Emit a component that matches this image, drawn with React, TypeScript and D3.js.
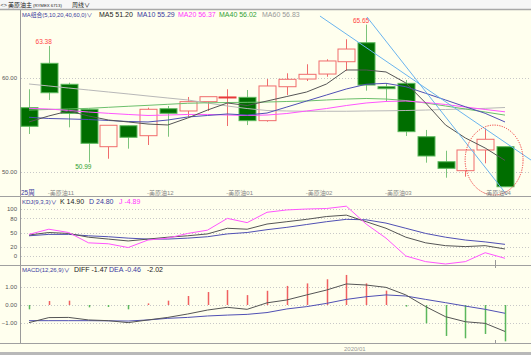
import React from 'react';
import * as d3 from 'd3';

// weekly candles (25 weeks)
const opens = [56.81, 61.53, 59.30, 56.64, 52.66, 54.89, 53.83, 56.70, 56.46, 57.45, 57.90, 57.91, 55.43, 59.04, 59.86, 60.39, 61.70, 63.72, 59.04, 59.40, 53.72, 51.06, 50.11, 52.31, 52.66];
const highs = [58.77, 63.38, 59.47, 56.70, 54.94, 54.90, 56.81, 56.99, 57.95, 58.00, 58.77, 58.69, 59.86, 60.47, 61.43, 61.96, 64.09, 65.65, 59.40, 59.76, 54.44, 52.23, 52.31, 54.62, 52.66];
const lows = [54.01, 57.63, 54.72, 50.99, 51.38, 52.45, 52.84, 53.72, 55.85, 56.46, 54.86, 54.96, 55.32, 58.16, 59.65, 60.10, 60.74, 58.62, 57.45, 53.80, 50.96, 49.36, 49.47, 50.89, 48.40];
const closes = [54.83, 58.40, 56.21, 53.02, 54.94, 53.66, 56.64, 56.21, 57.45, 57.98, 57.95, 55.43, 59.12, 59.83, 60.36, 61.78, 63.05, 59.22, 58.83, 54.26, 51.67, 50.36, 52.31, 53.45, 48.40];

const ma5 = [55.29, 55.93, 56.46, 55.93, 55.50, 55.29, 55.07, 54.97, 55.71, 56.56, 57.31, 57.04, 57.52, 58.00, 58.48, 59.33, 60.82, 60.82, 60.61, 59.44, 57.31, 54.97, 53.59, 52.52, 51.20];
const ma10 = [55.79, 55.66, 55.61, 55.55, 55.45, 55.34, 55.29, 55.50, 55.82, 55.98, 56.14, 56.03, 56.24, 56.88, 57.52, 58.16, 58.80, 59.30, 59.40, 59.04, 58.34, 57.63, 56.91, 56.21, 55.29];
const ma20 = [56.74, 56.67, 56.51, 56.35, 56.21, 56.09, 55.98, 56.03, 56.09, 56.09, 56.03, 55.98, 56.03, 56.19, 56.46, 56.72, 57.04, 57.31, 57.47, 57.52, 57.36, 57.15, 56.88, 56.62, 56.37];
const ma40 = [56.56, 56.62, 56.67, 56.74, 56.85, 56.96, 57.06, 57.17, 57.28, 57.33, 57.36, 57.38, 57.41, 57.47, 57.52, 57.63, 57.73, 57.79, 57.73, 57.57, 57.31, 56.99, 56.67, 56.35, 56.02];
const ma60 = [59.33, 59.12, 58.90, 58.69, 58.48, 58.27, 58.05, 57.84, 57.63, 57.31, 56.99, 56.72, 56.51, 56.46, 56.43, 56.43, 56.43, 56.46, 56.48, 56.51, 56.56, 56.62, 56.67, 56.74, 56.83];

const kVals = [44.7, 50, 48, 40, 36, 32, 36, 40, 43, 47, 59, 57, 68, 73, 78, 84, 87, 73, 59, 40, 28, 22, 20, 22, 14.9];
const dVals = [43, 46, 46, 43, 41, 38, 36, 36, 38, 41, 47, 50, 56, 61, 67, 73, 78, 77, 70, 59, 48, 40, 34, 30, 24.8];
const jVals = [46, 57, 50, 28, 26, 18, 34, 38, 48, 55, 80, 71, 93, 98, 100, 101, 106, 68, 38, 0, -12, -17, -12, 7, -4.89];

const macdVals = [-0.24, 0.22, 0.24, -0.13, -0.11, -0.24, 0.09, 0.24, 0.5, 0.72, 0.83, 0.55, 0.79, 1.06, 1.2, 1.43, 1.67, 1.2, 0.8, -0.09, -1.02, -1.72, -1.85, -1.61, -2.02];
const diffVals = [-0.98, -0.70, -0.69, -0.83, -0.87, -0.98, -0.83, -0.69, -0.5, -0.28, -0.13, -0.24, 0.12, 0.28, 0.56, 0.83, 1.17, 1.11, 0.98, 0.56, -0.09, -0.65, -0.93, -1.02, -1.47];
const deaVals = [-0.87, -0.87, -0.87, -0.87, -0.88, -0.89, -0.83, -0.74, -0.69, -0.61, -0.56, -0.52, -0.42, -0.22, -0.09, 0.09, 0.31, 0.46, 0.56, 0.5, 0.31, 0.13, -0.06, -0.24, -0.46];

const monthIdx = [1, 6, 10, 14, 18, 23];
const monthLabels = ['-美原油11', '-美原油12', '-美原油01', '-美原油02', '-美原油03', '-美原油04'];
const priceTicks = [60, 50];
const kdTicks = [100, 80, 50, 20, 0];
const macdTicks = [1, 0, -1];

// drawn annotations: [index, price]
const trendLines = [
  [[14.67, 66.56], [25.31, 51.24]],
  [[17.04, 66.46], [24.1, 47.52]],
];
const ringCenter = [23.45, 51.24];
const ringSize = [1.46, 3.72];

const FONT = '"Liberation Sans", "Noto Sans CJK SC", sans-serif';
const BG = '#ffffee';
const UP = '#f06c6c';
const DOWN = '#006e00';
const DOWN_EDGE = '#5cb85c';
const NAVY = '#3a3aa0';

export default function App() {
  const x = d3.scaleLinear().domain([0, 24]).range([29, 505]);
  const yP = d3.scaleLinear().domain([50, 60]).range([171.7, 77.7]);
  const yK = d3.scaleLinear().domain([0, 100]).range([256, 209]);
  const yM = d3.scaleLinear().domain([-1, 1]).range([323, 287]);
  const bw = 17;
  const px = (i: number) => Math.round(x(i)) + 0.5;

  const mk = (y: d3.ScaleLinear<number, number>) => (arr: number[]) =>
    d3.line<number>().x((_, i) => x(i)).y((d) => y(d))(arr) || '';
  const lineP = mk(yP), lineK = mk(yK), lineM = mk(yM);

  const fmt = d3.format('.2f');

  return (
    <svg width={531} height={355} style={{ position: 'absolute', left: 0, top: 0, display: 'block' }} fontFamily={FONT}>
      <rect x={0} y={0} width={531} height={355} fill={BG} />
      {/* header */}
      <rect x={0} y={0} width={531} height={9} fill="#f6f6f6" />
      <line x1={0} x2={531} y1={9.5} y2={9.5} stroke="#a8a8a8" strokeWidth={1.5} />
      <text x={0.5} y={7} fontSize={5.5} fill="#333">&lt;&gt;</text>
      <text x={8} y={7} fontSize={6} fill="#222">美原油主</text>
      <text x={33} y={6.8} fontSize={4.3} fill="#222">(RYMEX 6713)</text>
      <text x={72} y={7} fontSize={6} fill="#222">周线∨</text>

      {/* panel frame */}
      <line x1={20.5} x2={20.5} y1={10} y2={344} stroke="#9a9a9a" />
      <line x1={0} x2={531} y1={196.5} y2={196.5} stroke="#a0a0a0" />
      <line x1={0} x2={531} y1={265.5} y2={265.5} stroke="#a0a0a0" />
      <line x1={0} x2={531} y1={343.5} y2={343.5} stroke="#a0a0a0" />
      <rect x={0} y={352} width={531} height={3} fill="#b8b8b8" />

      {/* main panel legend */}
      <text x={22} y={16.5} fontSize={5.8} fill={NAVY}>MA组合(5,10,20,40,60,0)∨</text>
      <text y={16.5} fontSize={7}>
        <tspan x={99} fill="#222">MA5 51.20</tspan>
        <tspan x={137} fill={NAVY}>MA10 55.29</tspan>
        <tspan x={178} fill="#ff33ff">MA20 56.37</tspan>
        <tspan x={219} fill="#33a033">MA40 56.02</tspan>
        <tspan x={262} fill="#999">MA60 56.83</tspan>
      </text>

      {/* price grid */}
      {priceTicks.map((t) => (
        <g key={t}>
          <line x1={21} x2={531} y1={Math.round(yP(t)) + 0.5} y2={Math.round(yP(t)) + 0.5} stroke="#c8c8c8" strokeDasharray="1,2" />
          <text x={17} y={yP(t) + 2.2} fontSize={6} textAnchor="end" fill="#555">{fmt(t)}</text>
        </g>
      ))}

      {/* candles */}
      {closes.map((c, i) => {
        const o = opens[i];
        const up = c >= o;
        const top = yP(Math.max(o, c));
        const bot = yP(Math.min(o, c));
        const h = Math.max(1, bot - top);
        const cx = px(i);
        if (up) {
          return (
            <g key={i}>
              {yP(highs[i]) < top - 0.5 && <line x1={cx} x2={cx} y1={yP(highs[i])} y2={top} stroke={UP} />}
              {yP(lows[i]) > bot + 0.5 && <line x1={cx} x2={cx} y1={bot} y2={yP(lows[i])} stroke={UP} />}
              <rect x={cx - bw / 2} y={top} width={bw} height={h} fill={h < 2 ? '#e83a3a' : BG} stroke={h < 2 ? '#e83a3a' : UP} />
            </g>
          );
        }
        return (
          <g key={i}>
            <line x1={cx} x2={cx} y1={yP(highs[i])} y2={yP(lows[i])} stroke="#7cc47c" />
            <rect x={cx - bw / 2} y={top} width={bw} height={h} fill={DOWN} stroke={DOWN_EDGE} />
          </g>
        );
      })}

      {/* moving averages */}
      <path d={lineP(ma60)} fill="none" stroke="#b8b8b8" />
      <path d={lineP(ma40)} fill="none" stroke="#6cbf6c" />
      <path d={lineP(ma20)} fill="none" stroke="#ff55ff" />
      <path d={lineP(ma10)} fill="none" stroke="#5050b4" />
      <path d={lineP(ma5)} fill="none" stroke="#555" />

      {/* high / low marks */}
      <text x={x(1) + 3} y={yP(highs[1]) - 2} fontSize={6.5} textAnchor="end" fill="#ff4444">{fmt(highs[1])}</text>
      <text x={x(17) + 3} y={yP(highs[17]) - 2} fontSize={6.5} textAnchor="end" fill="#ff4444">{fmt(highs[17])}</text>
      <text x={x(3) + 3} y={yP(lows[3]) + 7} fontSize={6.5} textAnchor="end" fill="#2e9e2e">{fmt(lows[3])}</text>

      {/* trend lines & ring */}
      {trendLines.map((l, k) => (
        <line key={k} x1={x(l[0][0])} y1={yP(l[0][1])} x2={x(l[1][0])} y2={yP(l[1][1])} stroke="#6ab4ee" />
      ))}
      <ellipse
        cx={x(ringCenter[0])}
        cy={yP(ringCenter[1])}
        rx={x(ringCenter[0] + ringSize[0]) - x(ringCenter[0])}
        ry={yP(ringCenter[1] - ringSize[1]) - yP(ringCenter[1])}
        fill="none"
        stroke="#f03838"
        strokeDasharray="1.2,1.2"
      />

      {/* x labels row */}
      <text x={21} y={194.5} fontSize={6.5} fill={NAVY}>25周</text>
      {monthIdx.map((m, k) => (
        <text key={k} x={x(m) - 1} y={194.5} fontSize={6} fill="#888">{monthLabels[k]}</text>
      ))}

      {/* KDJ panel */}
      <text x={22} y={203.5} fontSize={6} fill={NAVY}>KDJ(9,3,3)∨</text>
      <text y={203.5} fontSize={7}>
        <tspan x={60} fill="#222">K 14.90</tspan>
        <tspan x={89} fill={NAVY}>D 24.80</tspan>
        <tspan x={119} fill="#ff33ff">J -4.89</tspan>
      </text>
      {kdTicks.map((t) => (
        <g key={t}>
          <line x1={21} x2={531} y1={Math.round(yK(t)) + 0.5} y2={Math.round(yK(t)) + 0.5} stroke="#c8c8c8" strokeDasharray="1,2" />
          <text x={17} y={yK(t) + 2.2} fontSize={6} textAnchor="end" fill="#555">{t}</text>
        </g>
      ))}
      <path d={lineK(dVals)} fill="none" stroke="#5050b4" />
      <path d={lineK(kVals)} fill="none" stroke="#555" />
      <path d={lineK(jVals)} fill="none" stroke="#ff55ff" />
      <line x1={495.5} x2={495.5} y1={260} y2={265} stroke="#999" />

      {/* MACD panel */}
      <text x={22} y={271.5} fontSize={6} fill={NAVY}>MACD(12,26,9)∨</text>
      <text y={271.5} fontSize={7}>
        <tspan x={74} fill="#222">DIFF -1.47</tspan>
        <tspan x={109} fill={NAVY}>DEA -0.46</tspan>
        <tspan x={147} fill="#222">-2.02</tspan>
      </text>
      {macdTicks.map((t) => (
        <g key={t}>
          <line x1={21} x2={531} y1={Math.round(yM(t)) + 0.5} y2={Math.round(yM(t)) + 0.5} stroke="#c8c8c8" strokeDasharray="1,2" />
          <text x={17} y={yM(t) + 2.2} fontSize={6} textAnchor="end" fill="#555">{fmt(t)}</text>
        </g>
      ))}
      {macdVals.map((v, i) => (
        <rect
          key={i}
          x={px(i) - 0.75}
          y={Math.min(yM(v), yM(0))}
          width={1.5}
          height={Math.abs(yM(v) - yM(0))}
          fill={v >= 0 ? '#f06060' : '#5cb85c'}
        />
      ))}
      <path d={lineM(deaVals)} fill="none" stroke="#5050b4" />
      <path d={lineM(diffVals)} fill="none" stroke="#555" />
      <line x1={495.5} x2={495.5} y1={265} y2={268} stroke="#999" />
      <line x1={495.5} x2={495.5} y1={340} y2={343} stroke="#999" />
      <text x={344} y={350.5} fontSize={6} fill="#999">2020/01</text>
    </svg>
  );
}
